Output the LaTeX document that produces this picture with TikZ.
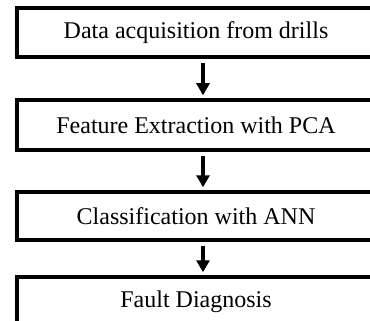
\documentclass[tikz,border=0pt]{standalone}
\usepackage{fontspec}
\setmainfont{Liberation Serif}
\usetikzlibrary{calc,arrows.meta}
\tikzset{
  flow/.style={
    x=1pt,
    y=1pt,
    line width=3.5pt
  },
  stage-box/.style={
    draw=black,
    line width=3.5pt,
    minimum width=358pt,
    inner sep=0pt,
    font=\fontsize{24}{28}\selectfont
  },
  stage-arrow/.style={
    -{Triangle[width=13pt,length=12pt]},
    line width=3.5pt,
    shorten <=4pt,
    shorten >=3pt
  }
}

\begin{document}
\begin{tikzpicture}[flow]
  \useasboundingbox (0,0) rectangle (370,-321);
  \clip (0,0) rectangle (370,-321);

  % Stages
  \node[stage-box, minimum height=49pt] (acq) at (196,-32.5) {Data acquisition from drills};
  \node[stage-box, minimum height=50pt] (pca) at (196,-125) {Feature Extraction with PCA};
  \node[stage-box, minimum height=48pt] (ann) at (196,-216) {Classification with ANN};
  \node[stage-box, minimum height=50pt] (fault) at (196,-302) {Fault Diagnosis};
  % Arrows
  \coordinate (ax) at (203,0);
  \draw[stage-arrow] (acq.south -| ax) -- (pca.north -| ax);
  \draw[stage-arrow] (pca.south -| ax) -- (ann.north -| ax);
  \draw[stage-arrow] (ann.south -| ax) -- (fault.north -| ax);
\end{tikzpicture}
\end{document}
